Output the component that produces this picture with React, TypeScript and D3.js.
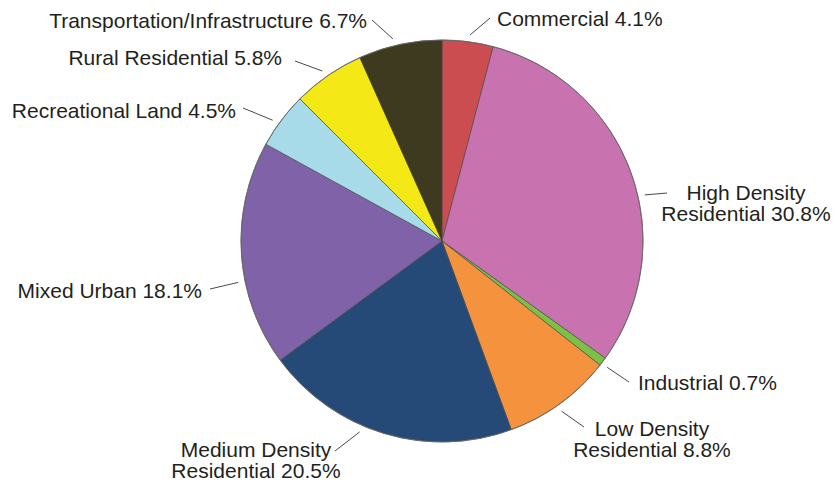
import React from "react";
import * as d3 from "d3";

const categories = [
  "Commercial",
  "High Density Residential",
  "Industrial",
  "Low Density Residential",
  "Medium Density Residential",
  "Mixed Urban",
  "Recreational Land",
  "Rural Residential",
  "Transportation/Infrastructure",
];
const values = [4.1, 30.8, 0.7, 8.8, 20.5, 18.1, 4.5, 5.8, 6.7];
const labelLines = [
  ["Commercial 4.1%"],
  ["High Density", "Residential 30.8%"],
  ["Industrial 0.7%"],
  ["Low Density", "Residential 8.8%"],
  ["Medium Density", "Residential 20.5%"],
  ["Mixed Urban 18.1%"],
  ["Recreational Land 4.5%"],
  ["Rural Residential 5.8%"],
  ["Transportation/Infrastructure 6.7%"],
];
const colors = [
  "#cc4d4f",
  "#c972b0",
  "#7cc045",
  "#f5923e",
  "#264a78",
  "#7f62a7",
  "#a8dbea",
  "#f4e817",
  "#3e3a20",
];

// layout: label anchor, leader outer end, inner-angle nudge (deg)
const labelLayout = [
  { x: 497, y: 26, anchor: "start", ox: 490, oy: 18, nudge: 0.4 },
  { x: 746, y: 200, anchor: "middle", ox: 667, oy: 193, nudge: 7 },
  { x: 638, y: 390, anchor: "start", ox: 629, oy: 382, nudge: 0.5 },
  { x: 652, y: 436, anchor: "middle", ox: 584, oy: 427, nudge: 0.9 },
  { x: 256, y: 457, anchor: "middle", ox: 335, oy: 451, nudge: 6.6 },
  { x: 202, y: 298, anchor: "end", ox: 210, oy: 289, nudge: -7.7 },
  { x: 236, y: 118, anchor: "end", ox: 243, oy: 108, nudge: -1.4 },
  { x: 282, y: 65, anchor: "end", ox: 295, oy: 61, nudge: -0.6 },
  { x: 367, y: 28, anchor: "end", ox: 372, oy: 20, nudge: -1.6 },
];

const W = 837;
const H = 484;
const cx = 442;
const cy = 241;
const R = 201;

export default function App() {
  const pie = d3.pie<number>().sort(null).value((d) => d);
  const arcs = pie(values);
  const arcGen = d3.arc<d3.PieArcDatum<number>>().innerRadius(0).outerRadius(R);

  return (
    <svg
      width={W}
      height={H}
      style={{ position: "absolute", left: 0, top: 0, background: "#fff" }}
      fontFamily="'Liberation Sans', Arial, Helvetica, sans-serif"
    >
      <g transform={`translate(${cx},${cy})`}>
        {arcs.map((a, i) => (
          <path
            key={categories[i]}
            d={arcGen(a) || ""}
            fill={colors[i]}
            stroke="#4a4a4a"
            strokeWidth={0.7}
          />
        ))}
        <circle r={R} fill="none" stroke="#6a6a6a" strokeWidth={0.8} />
      </g>
      {arcs.map((a, i) => {
        const L = labelLayout[i];
        const ang = (a.startAngle + a.endAngle) / 2 + (L.nudge * Math.PI) / 180;
        const ri = R + 7;
        const ix = cx + ri * Math.sin(ang);
        const iy = cy - ri * Math.cos(ang);
        return (
          <g key={"lbl" + i}>
            <line x1={ix} y1={iy} x2={L.ox} y2={L.oy} stroke="#333" strokeWidth={0.9} />
            <text
              x={L.x}
              y={L.y}
              textAnchor={L.anchor as any}
              fontSize={21}
              fill="#231f20"
            >
              {labelLines[i].map((t, j) => (
                <tspan key={j} x={L.x} dy={j === 0 ? 0 : 21}>
                  {t}
                </tspan>
              ))}
            </text>
          </g>
        );
      })}
    </svg>
  );
}
